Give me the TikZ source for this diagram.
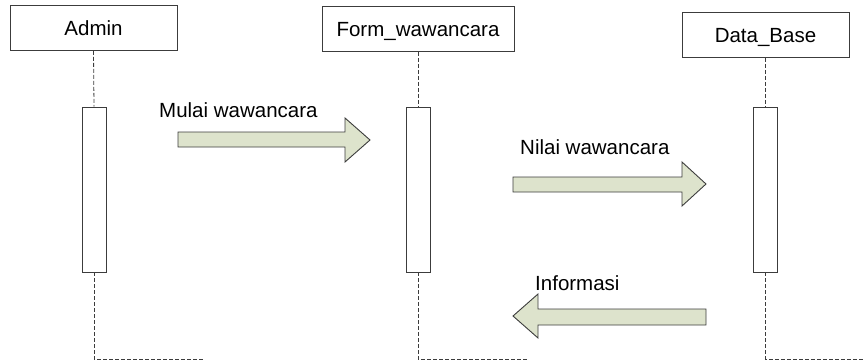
\documentclass[tikz,border=0pt]{standalone}
\usepackage{fontspec}
\setmainfont{Liberation Sans}
\definecolor{msgfill}{RGB}{221,227,204}
\definecolor{edge}{RGB}{60,60,60}
\begin{document}
\begin{tikzpicture}[x=1pt,y=-1pt,
  txt/.style={font=\fontsize{20.5}{24}\selectfont},
  obj/.style={txt, draw=edge, line width=0.8pt, fill=white, minimum width=#1, minimum height=45pt, inner sep=0pt, text height=15pt, text depth=0pt},
  act/.style={draw=edge, line width=0.8pt, fill=white, minimum width=24pt, minimum height=165pt, inner sep=0pt},
  life/.style={draw=edge, line width=0.8pt, dash pattern=on 4pt off 2pt},
  msg/.style={draw=edge, fill=msgfill, line width=0.9pt, line join=miter},
  lbl/.style={txt, anchor=base west, inner sep=0pt}]
\useasboundingbox (0,0) rectangle (864,361);

% objects
\node[obj=167pt] (admin) at (93.5,28) {Admin};
\node[obj=192pt] (form) at (418,29) {Form\_wawancara};
\node[obj=167pt] (data) at (765.5,35) {Data\_Base};

% activations
\node[act] (actA) at (94,189.5) {};
\node[act] (actF) at (418,189.5) {};
\node[act] (actD) at (765.5,189.5) {};

% lifeline ends
\coordinate (endA) at (94,359);
\coordinate (endA2) at (203,359);
\coordinate (endF) at (418,359);
\coordinate (endF2) at (527,359);
\coordinate (endD) at (765.5,359);
\coordinate (endD2) at (864,359);

\draw[life] (admin.south) -- (actA.north);
\draw[life] (actA.south) -- (endA) -- (endA2);
\draw[life] (form.south) -- (actF.north);
\draw[life] (actF.south) -- (endF) -- (endF2);
\draw[life] (data.south) -- (actD.north);
\draw[life] (actD.south) -- (endD) -- (endD2);

% messages
\draw[msg] (178,132) -- (345,132) -- (345,118) -- (370,140) -- (345,162) -- (345,147) -- (178,147) -- cycle;
\node[lbl] (m1) at (159,117) {Mulai wawancara};

\draw[msg] (513,177) -- (682,177) -- (682,162) -- (706,184) -- (682,206) -- (682,192) -- (513,192) -- cycle;
\node[lbl] (m2) at (520,154) {Nilai wawancara};

\draw[msg] (706,309) -- (538,309) -- (538,294) -- (513,316) -- (538,338) -- (538,325) -- (706,325) -- cycle;
\node[lbl] (m3) at (535,290) {Informasi};
\end{tikzpicture}
\end{document}
